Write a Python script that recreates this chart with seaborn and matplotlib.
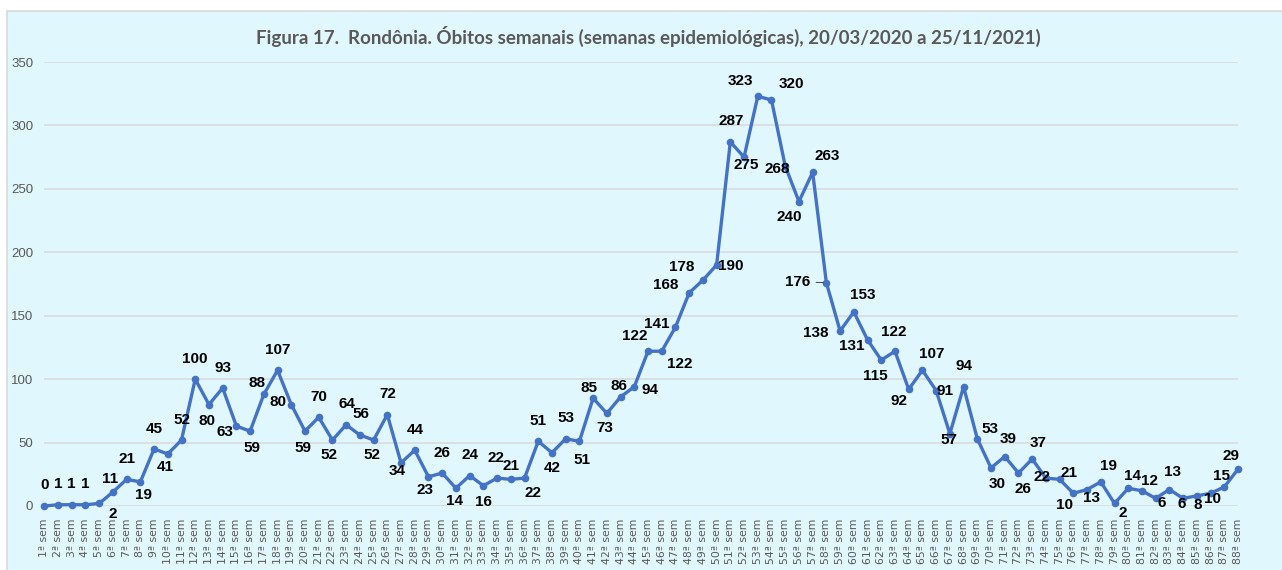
import matplotlib
matplotlib.use("Agg")
import matplotlib.pyplot as plt
import seaborn as sns
import pandas as pd
from matplotlib.patches import Rectangle

# ---------------- data ----------------
title = "Figura 17.  Rondônia. Óbitos semanais (semanas epidemiológicas), 20/03/2020 a 25/11/2021)"
weeks = [f"{i}ª sem" for i in range(1, 89)]
obitos = [0, 1, 1, 1, 2, 11, 21, 19, 45, 41,
          52, 100, 80, 93, 63, 59, 88, 107, 80, 59,
          70, 52, 64, 56, 52, 72, 34, 44, 23, 26,
          14, 24, 16, 22, 21, 22, 51, 42, 53, 51,
          85, 73, 86, 94, 122, 122, 141, 168, 178, 190,
          287, 275, 323, 320, 268, 240, 263, 176, 138, 153,
          131, 115, 122, 92, 107, 91, 57, 94, 53, 30,
          39, 26, 37, 22, 21, 10, 13, 19, 2, 14,
          12, 6, 13, 6, 8, 10, 15, 29]
y_ticks = [0, 50, 100, 150, 200, 250, 300, 350]

# label offsets (pixels, relative to each point) -- layout only
label_offsets = [
    (0, 19), (0, 19), (0, 19), (0, 19), (13.5, -10), (-3, 12), (0, 19), (3, -12), (0, 18.6), (-2.5, -11.7),
    (0, 18.7), (0, 18.5), (-1.5, -15), (0, 18.3), (-11.6, -5.7), (1.4, -15), (-7, 10), (0, 18.7), (-13.5, 2), (-2, -15),
    (0.4, 18.8), (-3.3, -14), (0.4, 19), (0.7, 19), (-2, -13.6), (0, 18.7), (-4, -7.6), (0, 18.8), (-3.6, -12), (0, 18.3),
    (-1.3, -11.3), (0, 19), (0, -15), (-1.5, 18.7), (0.5, 12.5), (8, -13.6), (0, 19), (0, -13.6), (0, 18.6), (3, -16.8),
    (-4, 9.3), (-1.7, -13.4), (-2, 10), (16, -3), (-13, 14), (18, -12), (-18.7, 3), (-23, 7), (-21, 12), (14.5, -1.3),
    (0.5, 19), (2, -7), (-17.6, 14), (20, 14.6), (-8, -3), (-10, -14.5), (15, 15), (-29, 1), (-24, -1.7), (9, 15.4),
    (-15.7, -5.3), (-6, -14.6), (-1, 18), (-10, -10.5), (9, 14.7), (9, 0), (-1, -6), (0.6, 18.8), (13, 8.6), (6.5, -15),
    (3, 16), (4, -15), (6, 14.5), (-4, 0.7), (9, 6), (-9, -10.6), (4, -7.5), (8, 14.5), (8.6, -8.7), (4, 11.3),
    (7.5, 8.6), (6.5, -4.4), (3.4, 16), (-1.6, -5), (1.4, -8.3), (1.7, -5), (-3, 10), (-6.7, 12),
]
leader_idx = [57]

# ---------------- figure ----------------
sns.set_theme(style="white")
plt.rcParams["font.family"] = ["Liberation Sans", "DejaVu Sans"]

W, H = 1282, 570
fig = plt.figure(figsize=(W / 100, H / 100), dpi=100, facecolor="white")
fig.patches.append(Rectangle((6.5 / W, -0.02), 1.0, 1 - 11 / H + 0.02, transform=fig.transFigure,
                             facecolor="#e1f7fe", edgecolor="#d9d9d9", lw=1.2, zorder=-5))

ax = fig.add_axes([44.3 / W, 1 - 506 / H, (1238 - 44.3) / W, (506 - 62) / H])
ax.set_facecolor("none")

df = pd.DataFrame({"semana": range(len(obitos)), "obitos": obitos})
sns.lineplot(data=df, x="semana", y="obitos", ax=ax, color="#4472C4", lw=2.4,
             marker="o", markersize=5.5, markeredgewidth=0, clip_on=False, zorder=3)

ax.set_xlim(0, len(obitos) - 1)
ax.set_ylim(0, 350)
ax.set_yticks(y_ticks)
ax.set_axisbelow(True)
ax.yaxis.grid(True, color="#d9d9d9", lw=1.1)
ax.xaxis.grid(False)
for s in ax.spines.values():
    s.set_visible(False)
ax.set_xticks(range(len(weeks)))
ax.set_xticklabels(weeks, rotation=90, fontsize=7.8, color="#595959", family="DejaVu Sans")
ax.tick_params(axis="x", length=0, pad=9)
ax.tick_params(axis="y", length=0, pad=8, labelsize=9.5, labelcolor="#595959")
ax.set_xlabel("")
ax.set_ylabel("")

for i, (v, (dx, dy)) in enumerate(zip(obitos, label_offsets)):
    kw = {}
    if i in leader_idx:
        kw["arrowprops"] = dict(arrowstyle="-", color="#404040", lw=0.7, shrinkA=2, shrinkB=2)
    ax.annotate(str(v), xy=(i, v), xytext=(dx, dy * 1.09), textcoords="offset pixels",
                ha="center", va="center", fontsize=11, fontweight="bold", color="black",
                zorder=5, annotation_clip=False, **kw)

fig.text(648.5 / W, 1 - 36.7 / H, title, ha="center", va="center", fontsize=13.5,
         fontweight="bold", color="#595959", family="Lato")

fig.savefig("out.png", dpi=100, facecolor="white")
